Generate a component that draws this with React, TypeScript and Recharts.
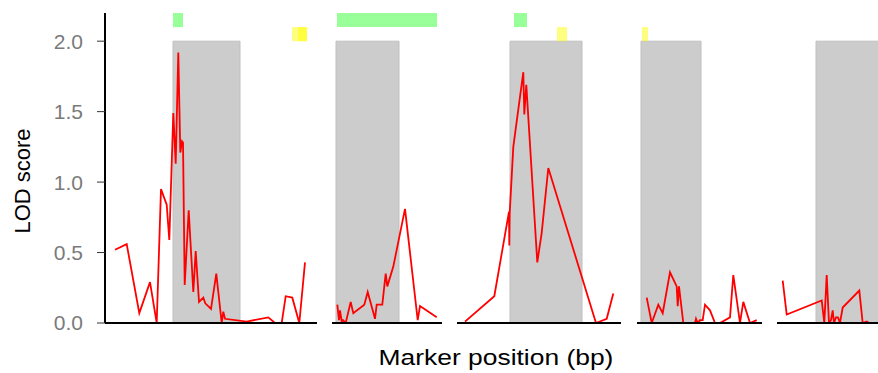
import React from "react";
import {
  LineChart,
  Line,
  XAxis,
  YAxis,
  ReferenceArea,
} from "recharts";

// marker positions (within each chromosome) and LOD scores
const chr1Pos = [10, 21.7, 34.3, 45, 51.7, 56, 61.7, 64.3, 68.3, 70.7, 73.3, 75.3, 77, 78, 79.7, 83.7, 88.3, 90.7, 94, 98.3, 100.3, 106, 111.3, 116.7, 118.3, 120, 141.7, 163.3, 170, 176.7, 180.7, 187.3, 194.3, 200];
const chr1Lod = [0.52, 0.56, 0.07, 0.29, 0, 0.95, 0.84, 0.59, 1.49, 1.13, 1.92, 1.21, 1.29, 1.28, 0.27, 0.8, 0.22, 0.51, 0.15, 0.18, 0.14, 0.1, 0.35, 0, 0.08, 0.03, 0.01, 0.04, 0, 0, 0.19, 0.18, 0, 0.43];

const chr2Pos = [5.3, 7, 8, 9.7, 11, 13.7, 18.7, 21.3, 32.3, 35.7, 43, 44.7, 50.3, 53.7, 55.3, 61.3, 73, 85.7, 88, 104.7];
const chr2Lod = [0.13, 0.02, 0.09, 0.01, 0.02, 0, 0.15, 0.07, 0.13, 0.22, 0.03, 0.13, 0.13, 0.35, 0.26, 0.4, 0.81, 0.02, 0.12, 0.04];

const chr3Pos = [8, 37.3, 52, 52.3, 52.7, 56.3, 66.3, 67.3, 69.3, 80.3, 84.7, 91.3, 139, 149.7, 156.3];
const chr3Lod = [0.01, 0.19, 0.79, 0.55, 0.78, 1.25, 1.78, 1.48, 1.69, 0.43, 0.64, 1.1, 0, 0.03, 0.21];

const chr4Pos = [9.7, 14.7, 21.3, 25.7, 33, 39.7, 40.7, 42, 46.3, 58, 59, 60.7, 63, 65.7, 68, 73, 78, 83, 93, 96.3, 103, 106.3, 113, 116.3, 119.7];
const chr4Lod = [0.18, 0, 0.13, 0.07, 0.36, 0.26, 0.12, 0.26, 0, 0, 0.03, 0, 0.02, 0.02, 0.13, 0.09, 0, 0, 0.04, 0.34, 0, 0.15, 0, 0.01, 0.02];

const chr5Pos = [5.7, 9.7, 44.7, 47.3, 49.7, 52, 54, 55.7, 57, 59, 61, 63, 65.7, 82.3, 85.7, 89.7, 92.3];
const chr5Lod = [0.3, 0.06, 0.16, 0, 0.34, 0, 0.02, 0.09, 0, 0.04, 0.04, 0, 0.11, 0.23, 0, 0.01, 0];

// chromosome lengths and highlighted intervals
const chrLength = [212, 110, 164, 125, 133];
const shaded = [[68, 135], [4, 67], [53, 125], [4, 64], [39, 133]];
const greenHits = [[[68, 78]], [[5, 105]], [[57, 70]], [], []];
const yellowHits = [[[187, 202], [193, 202]], [], [[100, 110]], [[5, 11]], []];

const yTicks = [0, 0.5, 1, 1.5, 2];

const FONT = '"Liberation Sans", Arial, sans-serif';
const panelLeft = [0, 332, 457, 637, 777];
const axisWidth = 105;

function Panel({ idx }: { idx: number }) {
  const pos = [chr1Pos, chr2Pos, chr3Pos, chr4Pos, chr5Pos][idx];
  const lod = [chr1Lod, chr2Lod, chr3Lod, chr4Lod, chr5Lod][idx];
  const data = pos.map((p, i) => ({ pos: p, lod: lod[i] }));
  const first = idx === 0;
  const plotW = chrLength[idx];
  const width = first ? plotW + axisWidth : plotW;

  return (
    <div style={{ position: "absolute", left: panelLeft[idx], top: 0 }}>
      <LineChart
        width={width}
        height={373}
        data={data}
        margin={{ top: 13, right: 0, bottom: 0, left: 0 }}
      >
        <XAxis
          dataKey="pos"
          type="number"
          domain={[0, chrLength[idx]]}
          allowDataOverflow
          tick={false}
          tickLine={false}
          axisLine={{ stroke: "#000", strokeWidth: 2 }}
          height={50}
        />
        {first ? (
          <YAxis
            domain={[0, 2.2]}
            allowDataOverflow
            ticks={yTicks}
            width={axisWidth}
            tickSize={8}
            tickMargin={14}
            tickFormatter={(v: number) => v.toFixed(1)}
            tick={{ fontSize: 21, fill: "#7a7a7a", fontFamily: FONT }}
            tickLine={{ stroke: "#333" }}
            axisLine={{ stroke: "#000", strokeWidth: 2 }}
          />
        ) : (
          <YAxis hide domain={[0, 2.2]} allowDataOverflow />
        )}
        <ReferenceArea
          x1={shaded[idx][0]}
          x2={shaded[idx][1]}
          y1={0}
          y2={2}
          fill="#cccccc"
          fillOpacity={1}
          stroke="#bfbfbf"
          strokeWidth={1}
          ifOverflow="hidden"
        />
        {greenHits[idx].map((g, i) => (
          <ReferenceArea
            key={"g" + i}
            x1={g[0]}
            x2={g[1]}
            y1={2.1}
            y2={2.2}
            fill="#00ff00"
            fillOpacity={0.4}
            ifOverflow="hidden"
          />
        ))}
        {yellowHits[idx].map((g, i) => (
          <ReferenceArea
            key={"y" + i}
            x1={g[0]}
            x2={g[1]}
            y1={2.0}
            y2={2.1}
            fill="#ffff00"
            fillOpacity={0.5}
            ifOverflow="hidden"
          />
        ))}
        <Line
          type="linear"
          dataKey="lod"
          stroke="#ff0000"
          strokeWidth={1.8}
          dot={false}
          isAnimationActive={false}
        />
      </LineChart>
    </div>
  );
}

export default function App() {
  return (
    <div
      style={{
        position: "absolute",
        left: 0,
        top: 0,
        width: 878,
        height: 373,
        overflow: "hidden",
        background: "#fff",
        fontFamily: FONT,
      }}
    >
      {[0, 1, 2, 3, 4].map((i) => (
        <Panel key={i} idx={i} />
      ))}
      <div
        style={{
          position: "absolute",
          left: 23,
          top: 181,
          transform: "translate(-50%, -50%) rotate(-90deg)",
          fontSize: 22,
          whiteSpace: "nowrap",
          color: "#000",
        }}
      >
        LOD score
      </div>
      <div
        style={{
          position: "absolute",
          left: 496,
          top: 358,
          transform: "translate(-50%, -50%) scaleX(1.2)",
          fontSize: 22,
          whiteSpace: "nowrap",
          color: "#000",
        }}
      >
        Marker position (bp)
      </div>
    </div>
  );
}
